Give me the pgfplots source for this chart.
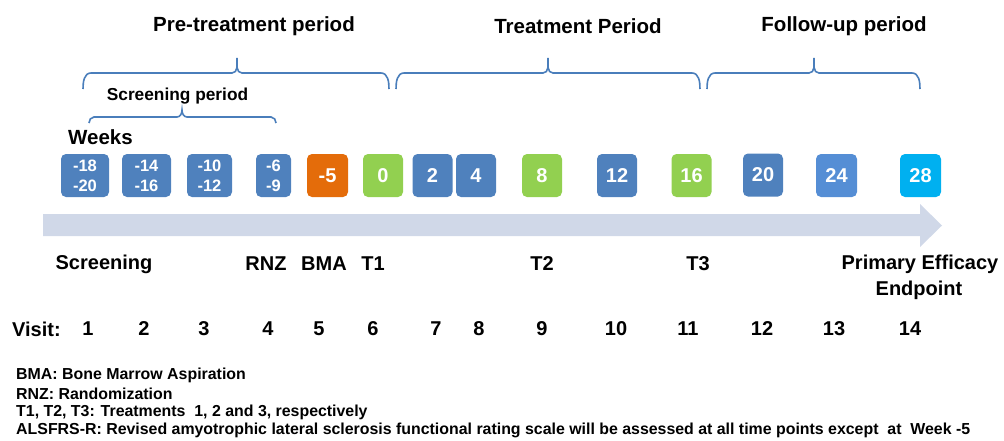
\documentclass[border=0pt]{standalone}
\usepackage{pgfplots}
\pgfplotsset{compat=1.18}
\usepackage{pgfplotstable}
\usepackage{fontspec}
\setmainfont{Liberation Sans}
\definecolor{bblue}{HTML}{4F81BD}
\definecolor{lblue}{HTML}{558ED5}
\definecolor{cyanb}{HTML}{00B0F0}
\definecolor{orangeb}{HTML}{E46C0A}
\definecolor{greenb}{HTML}{92D050}
\definecolor{arrowc}{HTML}{D0D8E8}
\definecolor{bracec}{HTML}{4A7EBB}
\newcommand{\fs}[1]{\fontsize{#1}{#1}\selectfont\bfseries}
\newcommand{\mybrace}[7]{% x0 x1 xc yend yline ytop r
  \draw[bracec, line width=1.6pt]
    (axis cs:#1,#4) to[out=90,in=180] (axis cs:#1+#7,#5)
    -- (axis cs:#3-5,#5) to[out=0,in=-90] (axis cs:#3,#6)
    to[out=-90,in=180] (axis cs:#3+5,#5)
    -- (axis cs:#2-#7,#5) to[out=0,in=90] (axis cs:#2,#4);}

\pgfplotsset{
  boxp/.style 2 args={draw=none,mark=none,point meta=explicit symbolic,
    nodes near coords,
    every node near coord/.style={anchor=center,fill=#1,rounded corners=5pt,
      minimum width=#2pt,minimum height=43pt,inner sep=0pt,text=white,
      font=\fs{20}}},
  txtp/.style 2 args={draw=none,mark=none,point meta=explicit symbolic,
    nodes near coords,
    every node near coord/.style={anchor=center,inner sep=0pt,text=#1,
      font=\fs{#2}}}
}

% two-line boxes (week ranges)
\pgfplotstableread{
x y top bot
85 175.5 -18 -20
146.5 175.5 -14 -16
209.5 175.5 -10 -12
273.5 175.5 -6 -9
}\twoline

\pgfplotstableread{
x y lab
327.5 175.5 -5
}\orangebox
\pgfplotstableread{
x y lab
383 175.5 0
542 175.5 8
691.5 175.5 16
}\greenbox
\pgfplotstableread{
x y lab
432.5 175.5 2
476 175.5 4
617 175.5 12
763 175 20
}\bluebox
\pgfplotstableread{
x y lab
836.5 175.5 24
}\lbluebox
\pgfplotstableread{
x y lab
920.5 175.5 28
}\cyanbox

\pgfplotstableread{
x y
43 214
920 214
920 204
942 225.5
920 247
920 236
43 236
}\arrowtab

\pgfplotstableread{
x y v
88 329 1
144 329 2
204 329 3
268 329 4
319 329 5
373 329 6
436 329 7
479 329 8
542 329 9
616 329 10
688 329 11
762 329 12
834 329 13
910 329 14
}\visits

\begin{document}
\begin{tikzpicture}
\begin{axis}[width=1004pt,height=440pt,scale only axis,
  xmin=0,xmax=1004,ymin=0,ymax=440,y dir=reverse,hide axis,clip=false]
\path (axis cs:0,0) rectangle (axis cs:1004,440);

% arrow
\addplot[fill=arrowc,draw=none,mark=none] table[x=x,y=y] {\arrowtab} -- cycle;

% two-line boxes: backgrounds of their own widths
\addplot[boxp={bblue}{48},nodes near coords={\phantom{0}}] coordinates {(85,175.5)};
\addplot[boxp={bblue}{49},nodes near coords={\phantom{0}}] coordinates {(146.5,175.5)};
\addplot[boxp={bblue}{45},nodes near coords={\phantom{0}}] coordinates {(209.5,175.5)};
\addplot[boxp={bblue}{35},nodes near coords={\phantom{0}}] coordinates {(273.5,175.5)};
\addplot[txtp={white}{16.5}] table[x=x,y expr=\thisrow{y}-9.5,meta=top] {\twoline};
\addplot[txtp={white}{16.5}] table[x=x,y expr=\thisrow{y}+10.5,meta=bot] {\twoline};

% one-line boxes
\addplot[boxp={orangeb}{41}] table[x=x,y=y,meta=lab] {\orangebox};
\addplot[boxp={greenb}{40}] table[x=x,y=y,meta=lab] {\greenbox};
\addplot[boxp={bblue}{40}] table[x=x,y=y,meta=lab] {\bluebox};
\addplot[boxp={lblue}{41}] table[x=x,y=y,meta=lab] {\lbluebox};
\addplot[boxp={cyanb}{41}] table[x=x,y=y,meta=lab] {\cyanbox};

% visit numbers
\addplot[txtp={black}{20}] table[x=x,y=y,meta=v] {\visits};

% braces
\mybrace{83}{389}{237}{89}{73}{58}{8}
\mybrace{396}{700}{548}{89}{73}{58}{8}
\mybrace{707}{920}{814}{89}{73}{58}{8}
\mybrace{89}{276}{182}{123}{117}{110}{5}

% titles
\node[font=\fs{20.5}] at (axis cs:254,26) {Pre-treatment period};
\node[font=\fs{20.5}] at (axis cs:578,26) {Treatment Period};
\node[font=\fs{20.5}] at (axis cs:844,26) {Follow-up period};
\node[font=\fs{17.3}] at (axis cs:177.5,96) {Screening period};
\node[font=\fs{20.5}] at (axis cs:100.5,137) {Weeks};

% event labels
\node[font=\fs{20}] at (axis cs:104,264) {Screening};
\node[font=\fs{20}] at (axis cs:266,264) {RNZ};
\node[font=\fs{20}] at (axis cs:324,264) {BMA};
\node[font=\fs{20}] at (axis cs:373,264) {T1};
\node[font=\fs{20}] at (axis cs:542,264) {T2};
\node[font=\fs{20}] at (axis cs:698,264) {T3};
\node[font=\fs{20}] at (axis cs:920,264) {Primary Efficacy};
\node[font=\fs{20}] at (axis cs:919,290) {Endpoint};
\node[font=\fs{20},anchor=west,inner sep=0pt] at (axis cs:12,329) {Visit:};

% footnotes
\node[font=\fs{15.9},anchor=west,inner sep=0pt] at (axis cs:16,375) {BMA: Bone Marrow Aspiration};
\node[font=\fs{15.9},anchor=west,inner sep=0pt] at (axis cs:16,393.5) {RNZ: Randomization};
\node[font=\fs{15.9},anchor=west,inner sep=0pt] at (axis cs:16,412) {T1, T2, T3: Treatments\ \ 1, 2 and 3, respectively};
\node[font=\fs{15.9},anchor=west,inner sep=0pt] at (axis cs:16,430) {ALSFRS-R: Revised amyotrophic lateral sclerosis functional rating scale will be assessed at all time points except\ \ at\ \ Week -5};
\end{axis}
\end{tikzpicture}
\end{document}
